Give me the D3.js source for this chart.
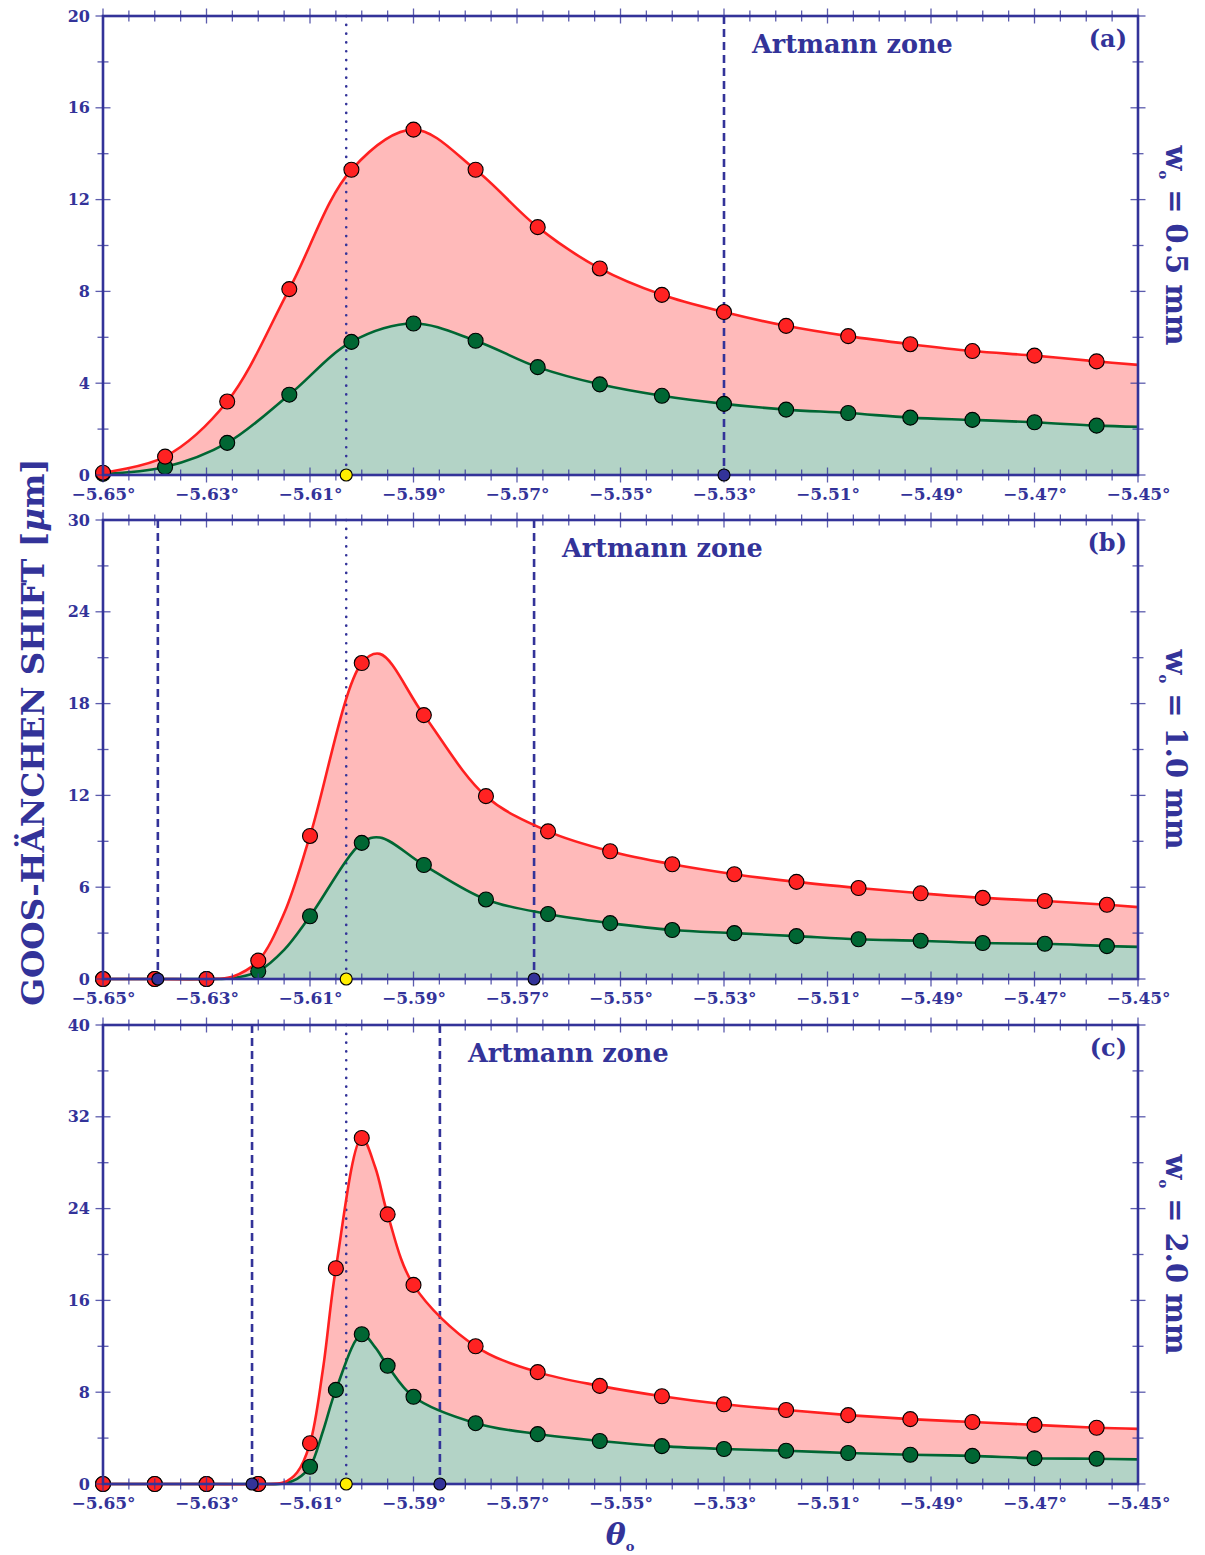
<!DOCTYPE html>
<html>
<head>
<meta charset="utf-8">
<script src="https://cdn.jsdelivr.net/npm/d3@7"></script>
<style>
  body { margin: 0; background: #fff; }
  svg { display: block; }
</style>
</head>
<body>
<div id="chart"></div>
<script>
// ---- panel (a): w0 = 0.5 mm ----
const thetaA = [-5.650, -5.638, -5.626, -5.614, -5.602, -5.590, -5.578, -5.566, -5.554,
  -5.542, -5.530, -5.518, -5.506, -5.494, -5.482, -5.470, -5.458];
const redA = [0.1, 0.8, 3.2, 8.1, 13.3, 15.05, 13.3, 10.8, 9.0, 7.85, 7.1, 6.5, 6.05, 5.7, 5.4, 5.2, 4.95];
const greenA = [0.05, 0.35, 1.4, 3.5, 5.8, 6.6, 5.85, 4.7, 3.95, 3.45, 3.1, 2.85, 2.7, 2.5, 2.4, 2.3, 2.15];
const curveThetaA = [-5.650, -5.638, -5.626, -5.614, -5.602, -5.590, -5.578, -5.566, -5.554,
  -5.542, -5.530, -5.518, -5.506, -5.494, -5.482, -5.470, -5.458, -5.450];
const curveRedA = [0.1, 0.8, 3.2, 8.1, 13.3, 15.05, 13.3, 10.8, 9.0, 7.85, 7.1, 6.5, 6.05, 5.7, 5.4, 5.2, 4.95, 4.8];
const curveGreenA = [0.05, 0.35, 1.4, 3.5, 5.8, 6.6, 5.85, 4.7, 3.95, 3.45, 3.1, 2.85, 2.7, 2.5, 2.4, 2.3, 2.15, 2.1];

// ---- panel (b): w0 = 1.0 mm ----
const thetaB = [-5.650, -5.640, -5.630, -5.620, -5.610, -5.600, -5.588, -5.576, -5.564,
  -5.552, -5.540, -5.528, -5.516, -5.504, -5.492, -5.480, -5.468, -5.456];
const redB = [0, 0, 0, 1.2, 9.35, 20.65, 17.25, 11.95, 9.65, 8.35, 7.5, 6.85, 6.35, 5.95, 5.6, 5.3, 5.1, 4.85];
const greenB = [0, 0, 0, 0.5, 4.1, 8.9, 7.45, 5.2, 4.25, 3.65, 3.2, 3.0, 2.8, 2.6, 2.5, 2.35, 2.3, 2.15];
const curveThetaB = [-5.650, -5.640, -5.630, -5.625, -5.620, -5.615, -5.610, -5.600, -5.5965,
  -5.588, -5.576, -5.564, -5.552, -5.540, -5.528, -5.516, -5.504, -5.492,
  -5.480, -5.468, -5.456, -5.450];
const curveRedB = [0, 0, 0, 0.15, 1.2, 4.3, 9.35, 20.65, 21.25, 17.25, 11.95, 9.65,
  8.35, 7.5, 6.85, 6.35, 5.95, 5.6, 5.3, 5.1, 4.85, 4.7];
const curveGreenB = [0, 0, 0, 0.05, 0.5, 1.9, 4.1, 8.9, 9.25, 7.45, 5.2, 4.25,
  3.65, 3.2, 3.0, 2.8, 2.6, 2.5, 2.35, 2.3, 2.15, 2.1];

// ---- panel (c): w0 = 2.0 mm ----
const thetaC = [-5.650, -5.640, -5.630, -5.620, -5.610, -5.605, -5.600, -5.595, -5.590, -5.578,
  -5.566, -5.554, -5.542, -5.530, -5.518, -5.506, -5.494, -5.482, -5.470, -5.458];
const redC = [0, 0, 0, 0, 3.55, 18.8, 30.15, 23.5, 17.35, 12.0, 9.75, 8.55, 7.65, 6.95, 6.45, 6.0, 5.65, 5.4, 5.15, 4.9];
const greenC = [0, 0, 0, 0, 1.5, 8.2, 13.05, 10.3, 7.6, 5.3, 4.35, 3.75, 3.3, 3.05, 2.9, 2.7, 2.55, 2.45, 2.25, 2.2];
const curveThetaC = [-5.650, -5.640, -5.630, -5.620, -5.615, -5.6125, -5.610, -5.6075, -5.605,
  -5.600, -5.5974, -5.595, -5.590, -5.578, -5.566, -5.554, -5.542,
  -5.530, -5.518, -5.506, -5.494, -5.482, -5.470, -5.458, -5.450];
const curveRedC = [0, 0, 0, 0, 0.15, 1.0, 3.55, 10.0, 18.8, 30.15, 27.6, 23.5, 17.35,
  12.0, 9.75, 8.55, 7.65, 6.95, 6.45, 6.0, 5.65, 5.4, 5.15, 4.9, 4.8];
const curveGreenC = [0, 0, 0, 0, 0.05, 0.45, 1.5, 4.6, 8.2, 13.05, 11.9, 10.3, 7.6,
  5.3, 4.35, 3.75, 3.3, 3.05, 2.9, 2.7, 2.55, 2.45, 2.25, 2.2, 2.15];

// ---- axes and annotations ----
const xTickValues = [-5.65, -5.63, -5.61, -5.59, -5.57, -5.55, -5.53, -5.51, -5.49, -5.47, -5.45];
const yMaxValues = [20, 30, 40];
const yMajorSteps = [4, 6, 8];
const panelLabels = ['(a)', '(b)', '(c)'];
const beamWidths = ['0.5', '1.0', '2.0'];
const criticalTheta = [-5.603, -5.603, -5.603];
const artmannBounds = [[-5.530], [-5.6394, -5.5667], [-5.6212, -5.5849]];

const AXIS = '#333399';
const FONT = '"DejaVu Serif", serif';
const width = 1205;
const height = 1555;
const left = 103;
const right = 1138;
const panelTops = [16, 520, 1025];
const panelH = 459;

const svg = d3.select('#chart').append('svg')
  .attr('width', width)
  .attr('height', height)
  .style('font-family', FONT);

const x = d3.scaleLinear().domain([-5.65, -5.45]).range([left, right]);
const minorX = d3.range(0, 41).map((i) => -5.65 + i * 0.005);
const smooth = d3.curveCatmullRom.alpha(0.5);

const panels = [
  { markers: [thetaA, redA, greenA], curve: [curveThetaA, curveRedA, curveGreenA] },
  { markers: [thetaB, redB, greenB], curve: [curveThetaB, curveRedB, curveGreenB] },
  { markers: [thetaC, redC, greenC], curve: [curveThetaC, curveRedC, curveGreenC] },
];

panels.forEach((p, i) => {
  const top = panelTops[i];
  const bottom = top + panelH;
  const y = d3.scaleLinear().domain([0, yMaxValues[i]]).range([bottom, top]);
  const g = svg.append('g');

  const curvePts = p.curve[0].map((t, k) => ({ t, r: p.curve[1][k], gr: p.curve[2][k] }));
  const markerPts = p.markers[0].map((t, k) => ({ t, r: p.markers[1][k], gr: p.markers[2][k] }));

  // filled areas
  const areaRed = d3.area().curve(smooth)
    .x((d) => x(d.t)).y0(y(0)).y1((d) => y(d.r));
  const areaGreen = d3.area().curve(smooth)
    .x((d) => x(d.t)).y0(y(0)).y1((d) => y(d.gr));
  g.append('path').datum(curvePts).attr('d', areaRed).attr('fill', '#ffbaba');
  g.append('path').datum(curvePts).attr('d', areaGreen).attr('fill', '#b3d3c6');

  // reference lines
  g.append('line')
    .attr('x1', x(criticalTheta[i])).attr('x2', x(criticalTheta[i]))
    .attr('y1', top).attr('y2', bottom)
    .attr('stroke', AXIS).attr('stroke-width', 2.6)
    .attr('stroke-linecap', 'round')
    .attr('stroke-dasharray', '0.1 8.7');
  g.selectAll('.artmann')
    .data(artmannBounds[i])
    .enter()
    .append('line')
    .attr('x1', (d) => x(d)).attr('x2', (d) => x(d))
    .attr('y1', top).attr('y2', bottom)
    .attr('stroke', AXIS).attr('stroke-width', 2.6)
    .attr('stroke-dasharray', '8 5');

  // curves
  const lineRed = d3.line().curve(smooth).x((d) => x(d.t)).y((d) => y(d.r));
  const lineGreen = d3.line().curve(smooth).x((d) => x(d.t)).y((d) => y(d.gr));
  g.append('path').datum(curvePts).attr('d', lineGreen)
    .attr('fill', 'none').attr('stroke', '#006633').attr('stroke-width', 2.6);
  g.append('path').datum(curvePts).attr('d', lineRed)
    .attr('fill', 'none').attr('stroke', '#ff2020').attr('stroke-width', 2.6);

  // markers
  g.selectAll('.mg').data(markerPts).enter().append('circle')
    .attr('cx', (d) => x(d.t)).attr('cy', (d) => y(d.gr)).attr('r', 7.5)
    .attr('fill', '#006633').attr('stroke', '#000').attr('stroke-width', 1.1);
  g.selectAll('.mr').data(markerPts).enter().append('circle')
    .attr('cx', (d) => x(d.t)).attr('cy', (d) => y(d.r)).attr('r', 7.5)
    .attr('fill', '#ff2222').attr('stroke', '#000').attr('stroke-width', 1.1);

  // frame
  g.append('rect')
    .attr('x', left).attr('y', top).attr('width', right - left).attr('height', panelH)
    .attr('fill', 'none').attr('stroke', AXIS).attr('stroke-width', 2.6);

  // x ticks on bottom and top
  [bottom, top].forEach((yy) => {
    g.append('g').selectAll('line').data(minorX).enter().append('line')
      .attr('x1', (d) => x(d)).attr('x2', (d) => x(d))
      .attr('y1', (d, k) => yy - (k % 4 === 0 ? 7.5 : 5.5))
      .attr('y2', (d, k) => yy + (k % 4 === 0 ? 7.5 : 5.5))
      .attr('stroke', AXIS).attr('stroke-opacity', 0.8).attr('stroke-width', 1.3);
  });

  // x labels
  const xAxis = g.append('g').attr('transform', `translate(0,${bottom})`)
    .call(d3.axisBottom(x).tickValues(xTickValues).tickSize(0)
      .tickFormat((d) => d3.format('.2f')(d) + '°'));
  xAxis.select('.domain').remove();
  xAxis.selectAll('text')
    .attr('y', 25).attr('dy', 0)
    .style('font-family', FONT).style('font-weight', 'bold')
    .style('font-size', '17px').attr('fill', AXIS);

  // y ticks on left and right
  const minorY = d3.range(0, yMaxValues[i] + 0.001, yMajorSteps[i] / 2);
  [left, right].forEach((xx) => {
    g.append('g').selectAll('line').data(minorY).enter().append('line')
      .attr('y1', (d) => y(d)).attr('y2', (d) => y(d))
      .attr('x1', (d, k) => xx - (k % 2 === 0 ? 7.5 : 5.5))
      .attr('x2', (d, k) => xx + (k % 2 === 0 ? 7.5 : 5.5))
      .attr('stroke', AXIS).attr('stroke-opacity', 0.8).attr('stroke-width', 1.3);
  });
  const yAxis = g.append('g').attr('transform', `translate(${left},0)`)
    .call(d3.axisLeft(y).tickValues(d3.range(0, yMaxValues[i] + 0.001, yMajorSteps[i]))
      .tickSize(0).tickFormat(d3.format('d')));
  yAxis.select('.domain').remove();
  yAxis.selectAll('text')
    .attr('x', -13)
    .style('font-family', FONT).style('font-weight', 'bold')
    .style('font-size', '16px').attr('fill', AXIS);

  // axis markers: critical angle (yellow) and Artmann bounds (blue)
  g.append('circle')
    .attr('cx', x(criticalTheta[i])).attr('cy', y(0)).attr('r', 6)
    .attr('fill', '#ffee00').attr('stroke', '#000').attr('stroke-width', 1.1);
  g.selectAll('.ab').data(artmannBounds[i]).enter().append('circle')
    .attr('cx', (d) => x(d)).attr('cy', y(0)).attr('r', 6)
    .attr('fill', AXIS).attr('stroke', '#000').attr('stroke-width', 1.1);

  // texts
  const lastBound = artmannBounds[i][artmannBounds[i].length - 1];
  g.append('text')
    .attr('x', x(lastBound) + 28).attr('y', top + 37)
    .attr('fill', AXIS).style('font-weight', 'bold').style('font-size', '25.5px')
    .text('Artmann zone');
  g.append('text')
    .attr('x', right - 11).attr('y', top + 31)
    .attr('text-anchor', 'end')
    .attr('fill', AXIS).style('font-weight', 'bold').style('font-size', '24px')
    .text(panelLabels[i]);

  const wLabel = g.append('text')
    .attr('transform', `translate(1166,${top + panelH / 2}) rotate(90)`)
    .attr('text-anchor', 'middle')
    .attr('fill', AXIS).style('font-weight', 'bold').style('font-size', '29px');
  wLabel.append('tspan').text('w');
  wLabel.append('tspan').attr('dy', 7).style('font-size', '13px').text('o');
  wLabel.append('tspan').attr('dy', -7).text(` = ${beamWidths[i]} mm`);
});

// shared labels
const yTitle = svg.append('text')
  .attr('transform', 'translate(44,732) rotate(-90)')
  .attr('text-anchor', 'middle')
  .attr('fill', AXIS).style('font-weight', 'bold').style('font-size', '32.5px');
yTitle.append('tspan').text('GOOS-HÄNCHEN SHIFT [');
yTitle.append('tspan').style('font-style', 'italic').text('μ');
yTitle.append('tspan').text('m]');

const xTitle = svg.append('text')
  .attr('x', 620).attr('y', 1545)
  .attr('text-anchor', 'middle')
  .attr('fill', AXIS).style('font-weight', 'bold').style('font-size', '30px');
xTitle.append('tspan').style('font-style', 'italic').text('θ');
xTitle.append('tspan').attr('dy', 6).style('font-size', '13px').text('o');
</script>
</body>
</html>
